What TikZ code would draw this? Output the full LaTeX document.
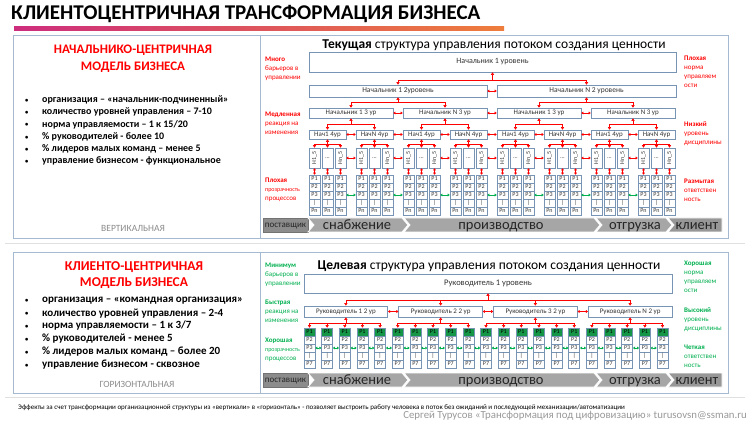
\documentclass[tikz,border=0pt]{standalone}
\usepackage{fontspec}
\usepackage{graphicx}
\setmainfont{Carlito}
\usetikzlibrary{arrows.meta,calc}
\definecolor{pb}{RGB}{165,185,208}
\definecolor{bb}{RGB}{120,148,180}
\definecolor{gt}{RGB}{0,176,80}
\definecolor{gf}{RGB}{20,150,70}
\definecolor{chev}{RGB}{166,166,166}
\definecolor{chevd}{RGB}{140,140,140}
\definecolor{mg}{RGB}{205,45,125}
\definecolor{orng}{RGB}{238,125,60}
\newcommand\myfs[2]{\fontsize{#1}{#2}\selectfont}
\newcommand\bulmark{\makebox[17pt][l]{\raisebox{0.5pt}{\myfs{6.5}{7}•}}}
\begin{document}
\begin{tikzpicture}[x=1pt,y=-1pt,
 box/.style={draw=bb,fill=white,line width=0.6pt,inner sep=0pt,text=black!80},
 rl/.style={draw=red,line width=0.6pt},
 tip/.style={-{Triangle[length=2.6pt,width=3.2pt]}},
 dbl/.style={{Triangle[length=2pt,width=2.8pt]}-{Triangle[length=2pt,width=2.8pt]}},
 gl/.style={draw=gt,line width=0.9pt},
 note/.style={anchor=north west,inner sep=0pt,align=left,font=\myfs{7}{8.8}},
 bul/.style={anchor=west,inner sep=0pt,font=\bfseries\myfs{10}{11}},
 bulb/.style={anchor=west,inner sep=0pt,font=\bfseries\myfs{11}{12}},
 chv/.style={fill=chev,draw=white,line width=0.8pt},
 ptxt/.style={inner sep=0pt,anchor=base,font=\myfs{14.5}{15},text=black!85}
]
\useasboundingbox (0,0) rectangle (750,422);
\fill[white] (0,0) rectangle (750,422);

% ---------- title
\node[anchor=west,inner sep=0pt,font=\bfseries\myfs{21}{24}] (title) at (11,14) {КЛИЕНТОЦЕНТРИЧНАЯ ТРАНСФОРМАЦИЯ БИЗНЕСА};
\shade[left color=mg,right color=orng] (14,27) rectangle (504,31);

% ---------- panels
\draw[pb,line width=0.9pt] (13,35) rectangle (728,238);
\draw[pb,line width=0.9pt] (260,35) -- (260,238);
\draw[black!12,line width=0.8pt] (5,243) -- (745,243);
\draw[pb,line width=0.9pt] (13,252) rectangle (728,393);
\draw[pb,line width=0.9pt] (260,252) -- (260,393);
\draw[black!12,line width=0.8pt] (5,397) -- (745,397);

% ---------- left top text
\node[font=\bfseries\myfs{13}{17},text=red,align=center,inner sep=0pt] (lt) at (133,58.5) {НАЧАЛЬНИКО-ЦЕНТРИЧНАЯ\\МОДЕЛЬ БИЗНЕСА};
\node[bul] (ta1) at (25,100) {\bulmark организация  –  «начальник-подчиненный»};
\node[bul] (ta2) at (25,112) {\bulmark количество уровней управления  – 7-10};
\node[bul] (ta3) at (25,124.5) {\bulmark норма управляемости  – 1 к 15/20};
\node[bul] (ta4) at (25,137) {\bulmark \% руководителей -  более 10};
\node[bul] (ta5) at (25,149) {\bulmark \% лидеров малых команд – менее 5};
\node[bul] (ta6) at (25,161) {\bulmark управление бизнесом  - функциональное};
\node[font=\myfs{9.5}{11},text=black!45,inner sep=0pt] (vert) at (133,228) {ВЕРТИКАЛЬНАЯ};

% ---------- left bottom text
\node[font=\bfseries\myfs{13.5}{16},text=red,align=center,inner sep=0pt] (lb) at (134,275) {КЛИЕНТО-ЦЕНТРИЧНАЯ\\МОДЕЛЬ БИЗНЕСА};
\node[bulb] (tb1) at (25,301) {\bulmark организация –  «командная организация»};
\node[bulb] (tb2) at (25,313.5) {\bulmark количество уровней управления – 2-4};
\node[bulb] (tb3) at (25,326) {\bulmark норма управляемости – 1 к 3/7};
\node[bulb] (tb4) at (25,339) {\bulmark \% руководителей -  менее 5};
\node[bulb] (tb5) at (25,352) {\bulmark \% лидеров малых команд – более 20};
\node[bulb] (tb6) at (25,365) {\bulmark управление бизнесом - сквозное};
\node[font=\myfs{9.5}{11},text=black!45,inner sep=0pt] (horiz) at (137,384) {ГОРИЗОНТАЛЬНАЯ};

% ---------- right titles
\node[font=\myfs{13.5}{15},inner sep=0pt] (tt) at (494,45) {\textbf{Текущая} структура управления потоком создания ценности};
\node[font=\myfs{13.5}{15},inner sep=0pt] (bt) at (489,266) {\textbf{Целевая} структура управления потоком создания ценности};

% ---------- side notes top (red)
\node[note,text=red] (n1) at (265,57) {\textbf{Много}\\барьеров в\\управлении};
\node[note,text=red] (n2) at (265,112) {\textbf{Медленная}\\реакция на\\изменения};
\node[note,text=red] (n3) at (265,178) {\textbf{Плохая}\\{\myfs{6}{8.8}прозрачность}\\процессов};
\node[note,text=red] (n4) at (684,56) {\textbf{Плохая}\\норма\\управляем\\ости};
\node[note,text=red] (n5) at (684,122) {\textbf{Низкий}\\уровень\\дисциплины};
\node[note,text=red] (n6) at (684,179) {\textbf{Размытая}\\ответствен\\ность};
% ---------- side notes bottom (green)
\node[note,text=gt] (m1) at (265,263) {\textbf{Минимум}\\барьеров в\\управлении};
\node[note,text=gt] (m2) at (265,300) {\textbf{Быстрая}\\реакция на\\изменения};
\node[note,text=gt] (m3) at (265,338) {\textbf{Хорошая}\\{\myfs{6}{8.5}прозрачность}\\процессов};
\node[note,text=gt] (m4) at (684,261) {\textbf{Хорошая}\\норма\\управляем\\ости};
\node[note,text=gt] (m5) at (684,308) {\textbf{Высокий}\\уровень\\дисциплины};
\node[note,text=gt] (m6) at (684,345) {\textbf{Четкая}\\ответствен\\ность};

% ---------- top structure
\node[box,minimum width=367pt,minimum height=20pt,font=\myfs{8}{9}] (T1) at (492.5,62) {Начальник 1 уровень};
\node[box,minimum width=178pt,minimum height=12pt,font=\myfs{7.5}{8}] (T2a) at (398,91) {Начальник 1  2уровень};
\node[box,minimum width=179pt,minimum height=12pt,font=\myfs{7.5}{8}] (T2b) at (586.5,91) {Начальник N 2 уровень};
\foreach \i/\t in {1/Начальник 1 3 ур,2/Начальник N 3 ур,3/Начальник 1 3 ур,4/Начальник N 3 ур}{
  \node[box,minimum width=84pt,minimum height=10pt,font=\myfs{7}{8}] (T3-\i) at ({351+(\i-1)*94},113) {\t};
}
\foreach \k in {1,...,8}{
  \pgfmathsetmacro\sx{309+int((\k-1)/2)*94+mod(\k-1,2)*47}
  \pgfmathtruncatemacro\od{mod(\k,2)}
  \ifnum\od=1\def\lab{Нач1 4ур}\else\def\lab{НачN 4ур}\fi
  \node[box,minimum width=37pt,minimum height=9pt,font=\myfs{7}{8}] (T4-\k) at (\sx+18.5,134.5) {\lab};
  \foreach \j in {1,2,3}{
    \pgfmathsetmacro\cx{\sx+5.5+(\j-1)*13}
    \ifcase\j\or\def\vt{\rotatebox{90}{Н1\_5}}\or\def\vt{…}\or\def\vt{\rotatebox{90}{Нn\_5}}\fi
    \node[box,minimum width=11pt,minimum height=20pt,font=\myfs{6}{7}] (T5-\k-\j) at (\cx,158) {\vt};
    \foreach \r/\plab in {1/P1,2/P2,3/P3,4/|,5/Pn}{
      \node[box,minimum width=11pt,minimum height=8pt,font=\myfs{6}{7}] (T6-\k-\j-\r) at (\cx,{179+(\r-1)*8}) {\plab};
    }
    \draw[rl,dbl] (T5-\k-\j) -- (T6-\k-\j-1);
  }
  \coordinate (c4-\k) at ($(T4-\k.south)+(0,5.5)$);
  \draw[rl,tip] (c4-\k) -- (T4-\k.south);
  \foreach \j in {1,2,3}{\draw[rl,tip] (c4-\k) -| (T5-\k-\j.north);}
}
% tree connectors
\coordinate (c1) at ($(T1.south)+(0,8)$);
\draw[rl,tip] (c1) -- (T1.south);
\draw[rl,tip] (c1) -| (T2a.north);
\draw[rl,tip] (c1) -| (T2b.north);
\coordinate (c2a) at ($(T2a.south)+(0,5)$);
\draw[rl,tip] (c2a) -- (T2a.south);
\draw[rl,tip] (c2a) -| (T3-1.north);
\draw[rl,tip] (c2a) -| (T3-2.north);
\coordinate (c2b) at ($(T2b.south)+(0,5)$);
\draw[rl,tip] (c2b) -- (T2b.south);
\draw[rl,tip] (c2b) -| (T3-3.north);
\draw[rl,tip] (c2b) -| (T3-4.north);
\foreach \i in {1,...,4}{
  \pgfmathtruncatemacro\ka{2*\i-1}
  \pgfmathtruncatemacro\kb{2*\i}
  \coordinate (c3-\i) at ($(T3-\i.south)+(0,6)$);
  \draw[rl,tip] (c3-\i) -- (T3-\i.south);
  \draw[rl,tip] (c3-\i) -| (T4-\ka.north);
  \draw[rl,tip] (c3-\i) -| (T4-\kb.north);
}
% sibling arrows
\draw[rl,dbl] (T2a.east) -- (T2b.west);
\foreach \i in {1,2,3}{
  \pgfmathtruncatemacro\nx{\i+1}
  \draw[rl,dbl] (T3-\i.east) -- (T3-\nx.west);
}
\foreach \k in {1,...,7}{
  \pgfmathtruncatemacro\nx{\k+1}
  \draw[rl,dbl] (T4-\k.east) -- (T4-\nx.west);
  \draw[rl,dbl] (T5-\k-3.east) -- (T5-\nx-1.west);
  \draw[gl,dbl] (T6-\k-3-3.east) -- (T6-\nx-1-3.west);
}

% ---------- bottom structure
\node[box,minimum width=368pt,minimum height=19pt,font=\myfs{8.5}{10}] (B1) at (488,283.5) {Руководитель 1 уровень};
\foreach \i/\t in {1/Руководитель 1 2 ур,2/Руководитель 2 2 ур,3/Руководитель 3 2 ур,4/Руководитель N 2 ур}{
  \node[box,minimum width=83.75pt,minimum height=11pt,font=\myfs{7}{8}] (B2-\i) at ({345.875+(\i-1)*94.75},311.5) {\t};
}
\foreach \c in {1,...,21}{
  \pgfmathsetmacro\cx{309.5+(\c-1)*17.65}
  \node[box,fill=gf,minimum width=11pt,minimum height=8pt,font=\myfs{6}{7},text=black] (B3-\c-1) at (\cx,332) {P1};
  \foreach \r/\plab in {2/P2,3/P3,4/|,5/P7}{
    \node[box,minimum width=11pt,minimum height=8pt,font=\myfs{6}{7}] (B3-\c-\r) at (\cx,{332+(\r-1)*8}) {\plab};
  }
}
\coordinate (d1) at ($(B1.south)+(0,6.5)$);
\draw[rl,tip] (d1) -- (B1.south);
\foreach \i in {1,...,4}{\draw[rl,tip] (d1) -| (B2-\i.north);}
\foreach \i/\a/\b in {1/1/5,2/6/10,3/11/16,4/17/21}{
  \coordinate (d2-\i) at ($(B2-\i.south)+(0,6)$);
  \draw[rl,tip] (d2-\i) -- (B2-\i.south);
  \foreach \c in {\a,...,\b}{\draw[rl,tip] (d2-\i) -| (B3-\c-1.north);}
}
\foreach \i in {1,2,3}{
  \pgfmathtruncatemacro\nx{\i+1}
  \draw[rl,dbl] (B2-\i.east) -- (B2-\nx.west);
}
\foreach \c in {1,...,20}{
  \pgfmathtruncatemacro\nx{\c+1}
  \draw[gl,dbl] (B3-\c-3.east) -- (B3-\nx-3.west);
}

% ---------- process chevrons
\foreach \yy in {218,373}{
  \pgfmathsetmacro\yb{\yy+14}
  \pgfmathsetmacro\ym{\yy+7}
  \draw[fill=chevd,draw=black!55,line width=0.5pt] (263,\yy) rectangle (308,\yb);
  \fill[chv] (308,\yy) -- (402,\yy) -- (408,\ym) -- (402,\yb) -- (308,\yb) -- (314,\ym) -- cycle;
  \fill[chv] (404,\yy) -- (594,\yy) -- (600,\ym) -- (594,\yb) -- (404,\yb) -- (410,\ym) -- cycle;
  \fill[chv] (596,\yy) -- (666,\yy) -- (672,\ym) -- (666,\yb) -- (596,\yb) -- (602,\ym) -- cycle;
  \fill[chv,fill=chevd!90!white] (668,\yy) -- (722,\yy) -- (722,\yb) -- (668,\yb) -- (674,\ym) -- cycle;
  \node[inner sep=0pt,anchor=base,font=\myfs{9}{10},text=black!85] (sup\yy) at (285.5,\ym+2.8) {поставщик};
  \node[ptxt] (sna\yy) at (357,\ym+4.2) {снабжение};
  \node[ptxt] (pro\yy) at (501,\ym+4.2) {производство};
  \node[ptxt] (otg\yy) at (635,\ym+4.2) {отгрузка};
  \node[ptxt] (kli\yy) at (697,\ym+4.2) {клиент};
}

% ---------- footer
\node[anchor=west,inner sep=0pt,font=\myfs{7}{8}] (foot) at (18,408) {Эффекты  за счет трансформации организационной структуры  из «вертикали» в «горизонталь» -  позволяет выстроить работу человека  в поток без ожиданий и  последующей  механизации/автоматизации};
\node[anchor=base east,inner sep=0pt,font=\myfs{10.8}{12},text=black!40] (auth) at (747,418.5) {Сергей Турусов «Трансформация под цифровизацию» turusovsn@ssman.ru};
\end{tikzpicture}
\end{document}
